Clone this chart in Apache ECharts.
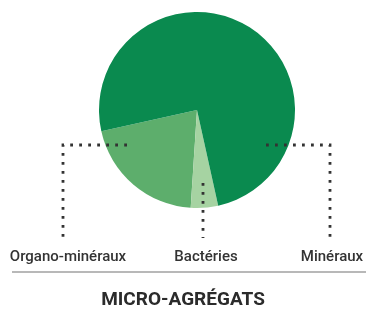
<!DOCTYPE html>
<html>
<head>
<meta charset="utf-8">
<script src="https://cdn.jsdelivr.net/npm/echarts@6/dist/echarts.min.js"></script>
<style>
  html, body { margin: 0; padding: 0; background: #fff; }
  #chart { width: 366px; height: 311px; }
</style>
</head>
<body>
<div id="chart"></div>
<script>
var categories = ['Organo-minéraux', 'Bactéries', 'Minéraux'];
var values = [20.5, 4.5, 75];
var colors = ['#5dae6c', '#a6d3a2', '#0a8a4f'];
var title = 'MICRO-AGRÉGATS';

// where each label sits and how its dotted leader runs
var labelPos = [
	{ x: 68, y: 257, line: [[127, 145], [63, 145], [63, 238]] },
	{ x: 206, y: 257, line: [[203, 183], [203, 210], [203, 238]] },
	{ x: 332, y: 257, line: [[266, 145], [330, 145], [330, 238]] }
];

function pieData(transparent) {
	return categories.map(function(name, i) {
		return {
			name : name,
			value : values[i],
			itemStyle : { color : transparent ? 'rgba(0,0,0,0)' : colors[i] }
		};
	});
}

var myChart = echarts.init(document.getElementById('chart'));
var pieBase = {
	type : 'pie',
	center : [ 197, 110 ],
	radius : 98,
	startAngle : 192.5,
	clockwise : false,
	avoidLabelOverlap : false,
	emphasis : { disabled : true },
	silent : true
};
var option = {
	animation : false,
	title : {
		text : title,
		left : 'center',
		top : 286,
		textStyle : {
			fontFamily : 'Roboto',
			fontWeight : 'bold',
			fontSize : 19,
			color : '#2b2b2b'
		}
	},
	graphic : [ {
		type : 'line',
		shape : { x1 : 12, y1 : 272, x2 : 366, y2 : 272 },
		style : { stroke : '#b8b8b8', lineWidth : 2 }
	} ],
	series : [
		// the visible slices
		echarts.util.merge({
			z : 2,
			label : { show : false },
			labelLine : { show : false },
			data : pieData(false)
		}, pieBase),
		// same pie again, see-through, so the dotted leaders sit over the slices
		echarts.util.merge({
			z : 3,
			label : {
				show : true,
				position : 'outside',
				fontFamily : 'Roboto',
				fontWeight : 500,
				fontSize : 15,
				color : '#333',
				formatter : '{b}'
			},
			labelLine : {
				show : true,
				lineStyle : {
					color : '#333',
					width : 2.8,
					type : [ 2.8, 6.2 ]
				}
			},
			labelLayout : function(params) {
				var p = labelPos[params.dataIndex];
				return {
					x : p.x,
					y : p.y,
					align : 'center',
					verticalAlign : 'middle',
					labelLinePoints : p.line
				};
			},
			data : pieData(true)
		}, pieBase)
	]
};
myChart.setOption(option);
</script>
</body>
</html>
